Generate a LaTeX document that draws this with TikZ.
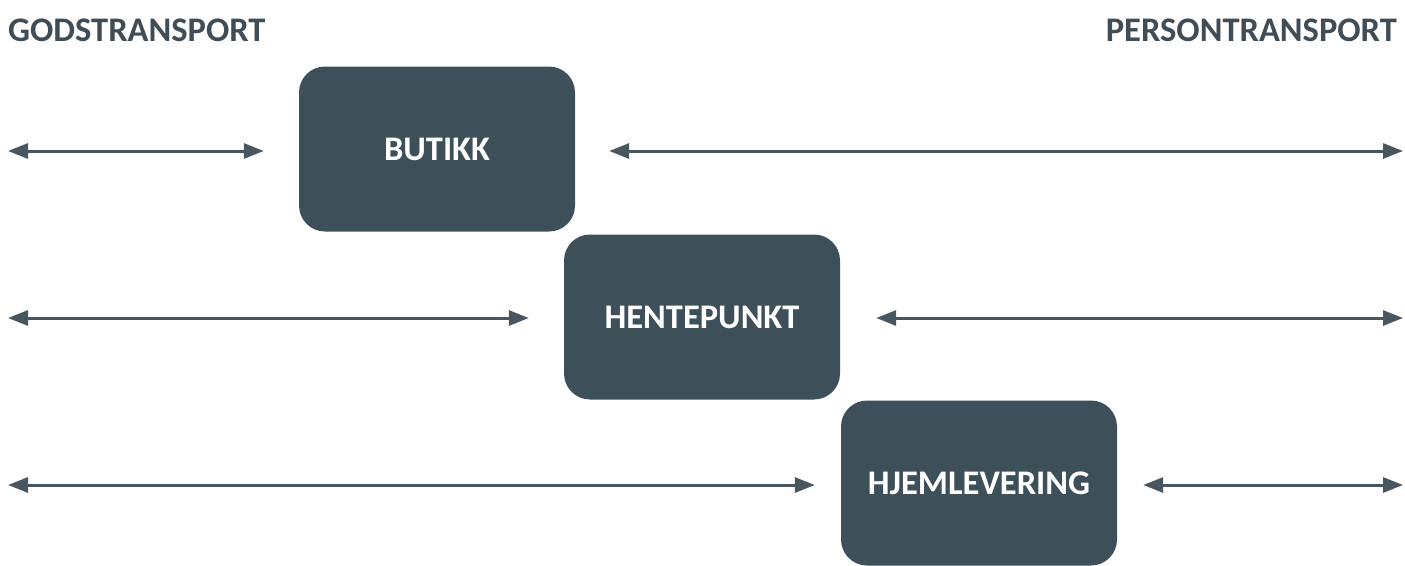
\documentclass[tikz,border=0pt]{standalone}
\usepackage{fontspec}
\setmainfont{Carlito}
\usetikzlibrary{arrows.meta}
\definecolor{slate}{RGB}{61,79,89}
\definecolor{titlegrey}{RGB}{64,77,86}
\definecolor{linegrey}{RGB}{72,86,95}
\tikzset{
  stagebox/.style={fill=slate, rounded corners=26pt, minimum width=276pt,
    minimum height=165pt, inner sep=0pt, text=white,
    font=\fontsize{34.5}{40}\selectfont\bfseries},
  heading/.style={text=titlegrey, inner sep=0pt,
    font=\fontsize{34.5}{40}\selectfont\bfseries},
  flow/.style={draw=linegrey, line width=3pt,
    {Triangle[length=20pt,width=15pt]}-{Triangle[length=20pt,width=15pt]}}
}
\begin{document}
\begin{tikzpicture}[x=1pt,y=-1pt]
  \useasboundingbox (0,0) rectangle (1405,565);

  % column headings
  \node[heading, anchor=base west] (gods) at (8,41) {GODSTRANSPORT};
  \node[heading, anchor=base east] (person) at (1397,41) {PERSONTRANSPORT};

  % the three delivery stages
  \node[stagebox] (butikk) at (437,149) {BUTIKK\hspace{14pt}};
  \node[stagebox] (hente) at (702,317) {HENTEPUNKT};
  \node[stagebox] (hjem) at (979,483) {HJEMLEVERING};

  % free ends of the connectors
  \coordinate (l1) at (8,151);    \coordinate (r1) at (1403,151);
  \coordinate (l2) at (8,318);    \coordinate (r2) at (1403,318);
  \coordinate (l3) at (8,485);    \coordinate (r3) at (1403,485);

  % goods transport side
  \draw[flow] (l1) -- ([xshift=-35pt]butikk.west |- l1);
  \draw[flow] (l2) -- ([xshift=-35pt]hente.west |- l2);
  \draw[flow] (l3) -- ([xshift=-26pt]hjem.west |- l3);

  % passenger transport side
  \draw[flow] ([xshift=34pt]butikk.east |- r1) -- (r1);
  \draw[flow] ([xshift=36pt]hente.east |- r2) -- (r2);
  \draw[flow] ([xshift=26pt]hjem.east |- r3) -- (r3);
\end{tikzpicture}
\end{document}
